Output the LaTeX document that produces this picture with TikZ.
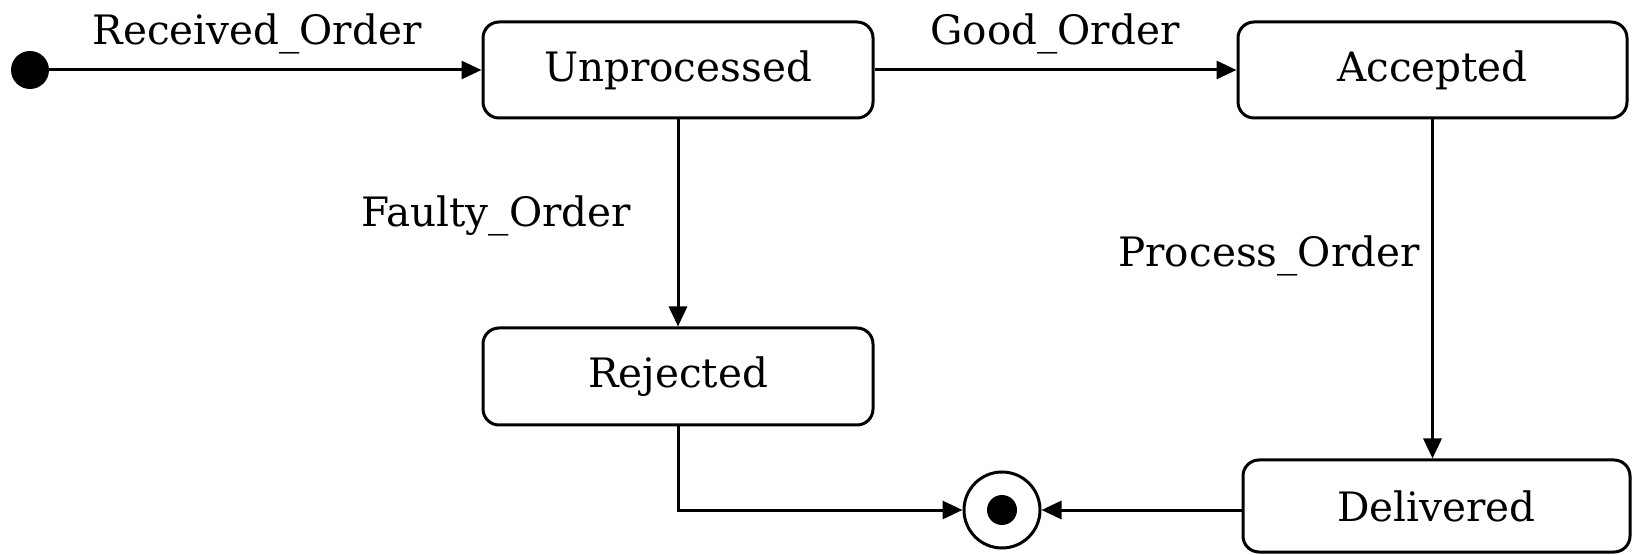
\documentclass[tikz,border=0pt]{standalone}
\usepackage{fontspec}
\setmainfont{DejaVu Serif}
\usetikzlibrary{arrows.meta}

\tikzset{
  state/.style={draw, line width=3pt, rounded corners=16pt, inner sep=0pt,
    font=\fontsize{40.5}{40.5}\selectfont},
  lbl/.style={inner sep=0pt, anchor=base, font=\fontsize{40.5}{40.5}\selectfont},
  flow/.style={line width=3pt, -{Triangle[length=20pt,width=18pt]}},
}

\begin{document}
\begin{tikzpicture}[x=1pt,y=1pt]
  \useasboundingbox (0,0) rectangle (1632,554);

  % pseudo-states
  \node[circle, fill=black, minimum size=38pt, inner sep=0pt] (init) at (30,484) {};
  \node[circle, draw, line width=3pt, minimum size=76pt, inner sep=0pt] (final) at (1002,44) {};
  \fill (final.center) circle (15pt);

  % states
  \node[state, minimum width=390pt, minimum height=96pt] (unproc) at (678,484) {Unprocessed};
  \node[state, minimum width=389pt, minimum height=96pt] (acc) at (1432.5,484) {Accepted};
  \node[state, minimum width=390pt, minimum height=97pt] (rej) at (678,177.5) {Rejected};
  \node[state, minimum width=387pt, minimum height=92pt] (del) at (1436.5,48) {Delivered};

  % transitions
  \draw[flow] (init) -- (unproc);
  \draw[flow] (unproc) -- (acc);
  \draw[flow] (unproc) -- (rej);
  \draw[flow] (acc.south) -- (acc.south |- del.north);
  \draw[flow] (rej.south) |- (final.west);
  \draw[flow] (del.west |- final.east) -- (final.east);

  % transition labels
  \node[lbl] (lrecv) at (257,509) {Received\_Order};
  \node[lbl] (lgood) at (1055,509) {Good\_Order};
  \node[lbl] (lfault) at (496,327) {Faulty\_Order};
  \node[lbl] (lproc) at (1269,287) {Process\_Order};
\end{tikzpicture}
\end{document}
